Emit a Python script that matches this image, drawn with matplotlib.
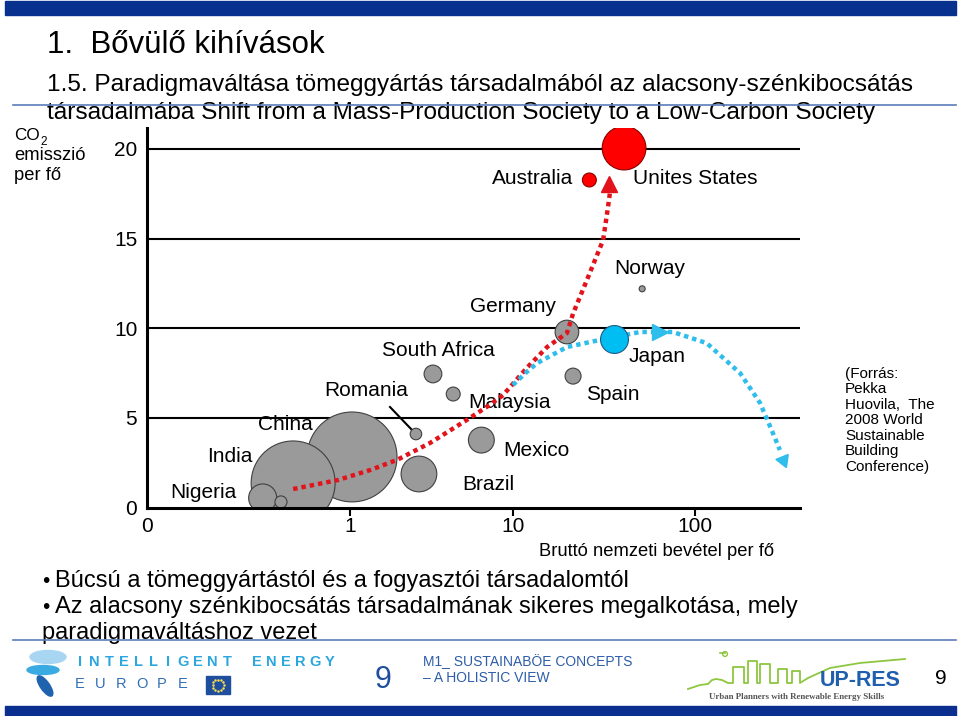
import numpy as np
import matplotlib
matplotlib.use('Agg')
import matplotlib.pyplot as plt
from matplotlib.patches import Rectangle, Ellipse

plt.rcParams['font.family'] = ['Liberation Sans', 'DejaVu Sans']

# bubbles: GNI per capita (1000 $), CO2 per capita (t), population (million)
names = ['Nigeria', '', 'India', 'China', 'Romania', 'Brazil', 'South Africa',
         'Malaysia', 'Mexico', 'Germany', 'Spain', 'Japan', 'Norway',
         'Australia', 'United States']
gni = [0.57, 0.66, 0.72, 1.03, 2.54, 2.65, 3.23, 4.3, 6.4, 19.8, 21.4, 35.9,
       51.3, 26.3, 40.8]
co2 = [0.53, 0.31, 1.37, 2.82, 4.1, 1.87, 7.45, 6.33, 3.76, 9.79, 7.33, 9.4,
       12.2, 18.27, 20.05]
pop = [130, 24, 1160, 1330, 22, 210, 52, 32, 110, 92, 42, 128, 6, 32, 315]
group = ['g'] * 11 + ['c', 'g', 'r', 'r']

# development paths (dotted arrows)
red_x = [0.72, 0.94, 1.33, 1.94, 3.1, 5.2, 7.2, 8.7, 11.9, 15.4, 19.8, 21.4,
         25.5, 31.3, 33.3, 34.1]
red_y = [1.03, 1.53, 2.09, 2.65, 3.6, 4.88, 5.72, 6.27, 7.78, 8.95, 9.73,
         10.82, 12.69, 14.92, 16.76, 17.54]
cyan_x = [10, 11.9, 13.6, 19.8, 26.5, 49.9, 75.7, 116, 177, 228, 268, 293]
cyan_y = [6.83, 7.56, 8.06, 8.95, 9.23, 9.79, 9.79, 9.17, 7.5, 5.83, 4.16,
          3.21]

xticks = [0, 1, 10, 100]
xticklabels = ['0', '1', '10', '100']
yticks = [0, 5, 10, 15, 20]

# slide-pixel positions of the country labels
labels = [('Nigeria', 203, 493), ('India', 230, 456), ('China', 285, 424),
          ('Romania', 366, 391), ('South Africa', 438, 350),
          ('Germany', 513, 306), ('Malaysia', 509, 402), ('Mexico', 536, 450),
          ('Brazil', 488, 485), ('Spain', 613, 394), ('Japan', 657, 357),
          ('Norway', 650, 268), ('Australia', 533, 179),
          ('Unites States', 695, 179)]

# the slide's x axis: linear 0..1, then log with uneven decades
LP = [0, 1, 2, 4]
PX = [203, 366, 548, 912]


def fwd(x):
    x = np.asarray(x, dtype=float)
    lx = np.log10(np.clip(x, 1e-9, None))
    return np.where(x < 1, x * 203, np.interp(lx, LP, PX))


def inv(p):
    p = np.asarray(p, dtype=float)
    return np.where(p < 203, p / 203, 10 ** np.interp(p, PX, LP))


fig = plt.figure(figsize=(9.6, 7.16), dpi=100)

# slide background layer in pixel coords
bg = fig.add_axes([0, 0, 1, 1])
bg.set_xlim(0, 960)
bg.set_ylim(716, 0)
bg.axis('off')

bg.add_patch(Rectangle((5, 1), 951, 14, color='#08318F'))
bg.add_patch(Rectangle((5, 706), 951, 10, color='#0B2F8F'))
bg.plot([13, 956], [105, 105], color='#5B7DBA', lw=1.2, zorder=5)
bg.plot([13, 956], [640, 640], color='#5B7DBA', lw=1.2, zorder=5)

bg.text(47, 53, '1.  Bővülő kihívások', fontsize=22.5, va='baseline')
bg.text(47, 91, '1.5. Paradigmaváltása tömeggyártás társadalmából az '
        'alacsony-szénkibocsátás', fontsize=17.6, va='baseline')
bg.text(47, 119, 'társadalmába Shift from a Mass-Production Society to a '
        'Low-Carbon Society', fontsize=17.6, va='baseline')

bg.text(14, 140, 'CO', fontsize=12.3, va='baseline')
bg.text(40, 145, '2', fontsize=8.5, va='baseline')
bg.text(14, 160, 'emisszió', fontsize=13.2, va='baseline')
bg.text(14, 180, 'per fő', fontsize=13.2, va='baseline')

for txt, px, py in labels:
    bg.text(px, py, txt, fontsize=15, ha='center', va='center')
bg.plot([390, 412], [407, 430], color='black', lw=1.5)

bg.text(657, 551, 'Bruttó nemzeti bevétel per fő', fontsize=13.2,
        ha='center', va='center')

bg.text(845, 367, '(Forrás:\nPekka\nHuovila,  The\n2008 World\nSustainable\n'
        'Building\nConference)', fontsize=11, va='top', linespacing=1.13)

bullets = ['Búcsú a tömeggyártástól és a fogyasztói társadalomtól',
           'Az alacsony szénkibocsátás társadalmának sikeres megalkotása, mely']
for i, b in enumerate(bullets):
    bg.text(42, 587 + 26 * i, '•', fontsize=15, va='baseline')
    bg.text(55, 587 + 26 * i, b, fontsize=17, va='baseline')
bg.text(42, 639, 'paradigmaváltáshoz vezet', fontsize=17, va='baseline')

# footer
bg.add_patch(Ellipse((48, 657), 36, 13, color='#A8D5F2'))
bg.add_patch(Ellipse((43, 670), 32, 9, color='#3AAAE2'))
bg.add_patch(Ellipse((45, 686), 9, 24, angle=-35, color='#1F62AE'))
for i, ch in enumerate('INTELLIGENT ENERGY'):
    bg.text(80 + i * 14.7, 662, ch, fontsize=10.5, fontweight='bold',
            color='#2BA6DE', ha='center', va='center')
for i, ch in enumerate('EUROPE'):
    bg.text(80 + i * 20.5, 684, ch, fontsize=10.5, color='#2F6EB5',
            ha='center', va='center')
bg.add_patch(Rectangle((206, 676), 24, 18, color='#1F4E9E'))
ang = np.linspace(0, 2 * np.pi, 12, endpoint=False)
bg.scatter(218 + 5.5 * np.cos(ang), 685 + 5.5 * np.sin(ang), s=0.6,
           color='#FFE14D')
bg.text(383, 680, '9', fontsize=22, color='#1F4E9E', ha='center',
        va='center')
bg.text(423, 662, 'M1_ SUSTAINABÖE CONCEPTS', fontsize=10,
        color='#2E5DA8', va='center')
bg.text(423, 678, '– A HOLISTIC VIEW', fontsize=10, color='#2E5DA8',
        va='center')
sky_x = [688, 700, 708, 712, 716, 722, 728, 733, 733, 744, 744, 748, 748,
         757, 757, 760, 760, 770, 770, 778, 778, 787, 787, 792, 792, 800, 800,
         808, 830, 860, 905]
sky_y = [689, 685, 684, 680, 679, 680, 683, 683, 667, 667, 683, 683, 661,
         661, 683, 683, 664, 664, 683, 683, 669, 669, 683, 683, 671, 671, 683,
         678, 668, 663, 659]
bg.plot(sky_x, sky_y, color='#8DC63F', lw=1.3)
bg.plot([720, 725], [653, 653], color='#8DC63F', lw=1.2)
bg.scatter([725], [654], s=12, facecolor='none', edgecolor='#8DC63F')
bg.text(860, 681, 'UP-RES', fontsize=15.5, fontweight='heavy',
        color='#1F5FAE', ha='center', va='center')
bg.text(797, 697, 'Urban Planners with Renewable Energy Skills',
        fontsize=6.4, fontweight='bold', color='#555555',
        family='Liberation Serif', ha='center', va='center')
bg.text(941, 679, '9', fontsize=15, ha='center', va='center')

# chart
ax = fig.add_axes([147 / 960, 1 - 507.5 / 716, 653 / 960, 379.5 / 716])
ax.patch.set_alpha(0)
ax.set_xscale('function', functions=(fwd, inv))
ax.set_xlim(0, 378)
ax.set_ylim(0, 21.17)

for y in yticks[1:]:
    ax.axhline(y, color='black', lw=1.5, zorder=1)

face = {'g': '#9A9A9A', 'c': '#00BEF2', 'r': '#FF0000'}
edge = {'g': '#404040', 'c': '#1F5A85', 'r': '#8A0000'}
for k in ['g', 'c', 'r']:
    # big bubbles first so the small ones stay visible on top
    idx = sorted([i for i, g in enumerate(group) if g == k],
                 key=lambda i: -pop[i])
    ax.scatter([gni[i] for i in idx], [co2[i] for i in idx],
               s=[pop[i] * 3.15 for i in idx], c=face[k],
               edgecolors=edge[k], linewidths=0.8,
               zorder=4 if k == 'c' else 2)

ax.plot(red_x, red_y, color='#E3131B', lw=3.2, ls=(0, (1, 0.9)), zorder=3)
ax.plot([33.7], [18.04], marker='^', ms=11, color='#E3131B', zorder=3)
ax.plot(cyan_x, cyan_y, color='#2FBDEB', lw=3.2, ls=(0, (1, 0.9)), zorder=3)
ax.plot([64.2], [9.79], marker='>', ms=11, color='#2FBDEB', zorder=3)
ax.plot([305], [2.65], marker=(3, 0, 202), ms=11, color='#2FBDEB', zorder=3)

for s in ['top', 'right']:
    ax.spines[s].set_visible(False)
for s in ['left', 'bottom']:
    ax.spines[s].set_linewidth(2.2)

ax.set_xticks(xticks)
ax.set_xticklabels(xticklabels)
ax.set_yticks(yticks)
ax.tick_params(axis='x', direction='out', length=6, width=1.5, pad=1,
               labelsize=15)
ax.tick_params(axis='y', length=0, pad=7, labelsize=15)
ax.xaxis.get_major_ticks()[0].tick1line.set_visible(False)
ax.minorticks_off()

fig.savefig('out.png', dpi=100)
